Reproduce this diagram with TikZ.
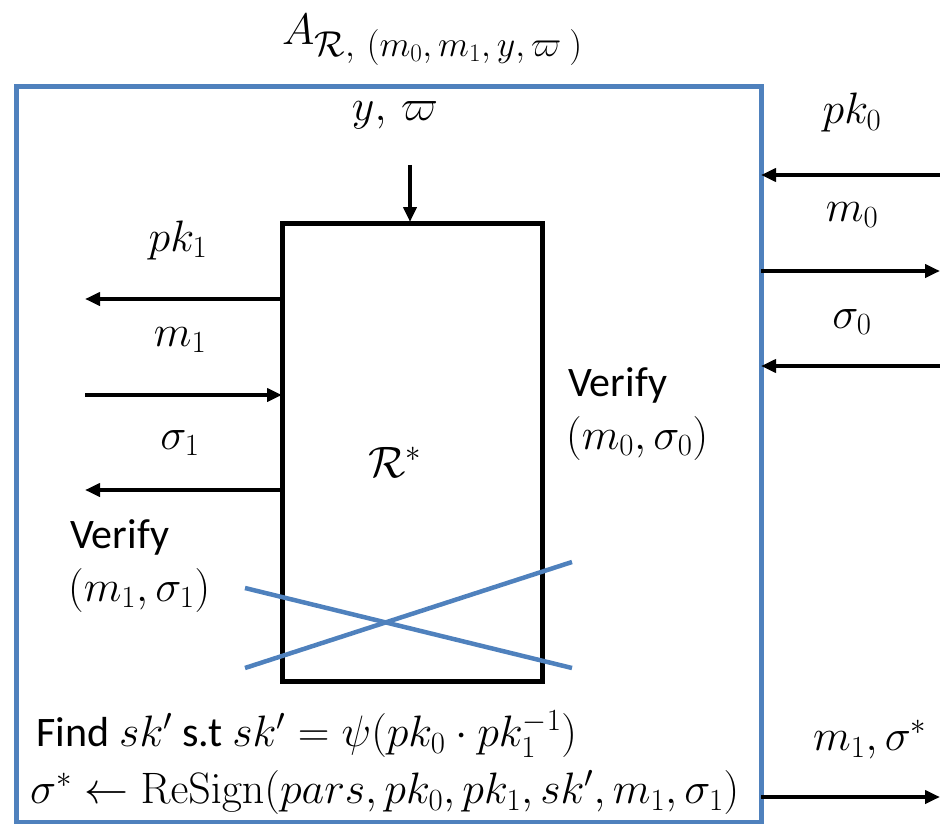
\documentclass[tikz,border=0pt]{standalone}
\usepackage{fix-cm}
\usepackage[no-math]{fontspec}
\setmainfont{Carlito}
\usetikzlibrary{arrows.meta}
\definecolor{frameblue}{HTML}{4F81BD}
\newcommand{\tx}[1]{{\fontsize{42}{48}\selectfont #1}}
\begin{document}
\begin{tikzpicture}[x=1pt,y=-1pt,
  lbl/.style={font=\fontsize{44}{50}\selectfont, inner sep=0pt},
  arr/.style={line width=4pt,-{Triangle[length=15pt,width=13pt]}},
  bluel/.style={frameblue,line width=4.5pt}]
\useasboundingbox (0,0) rectangle (940,824);
% outer box
\draw[frameblue,line width=5pt] (16.5,86.5) rectangle (761.5,822);
% inner box
\node[draw,line width=5pt,minimum width=260pt,minimum height=458pt,inner sep=0pt] (R) at (412,452.5) {};
\node[lbl] (Rl) at (395,462) {$\mathcal{R}^*$};
% title
\node[lbl,anchor=west] (title) at (282,40) {$A_{\hbox{\fontsize{36}{40}\selectfont$\mathcal{R},\,(m_0,m_1,y,\varpi\ )$}}$};
% top input
\node[lbl] (yw) at (395,115) {$y,\,\varpi$};
\coordinate (ytop) at (410,165);
\draw[arr] (ytop) -- (410,222);
% left arrows
\coordinate (L1) at (85,299);
\coordinate (L2) at (85,395);
\coordinate (L3) at (85,490);
\draw[arr] (282,299) -- (L1);
\draw[arr] (L2) -- (282,395);
\draw[arr] (282,490) -- (L3);
\node[lbl] (pk1) at (178,240) {$pk_1$};
\node[lbl] (m1) at (180,340) {$m_1$};
\node[lbl] (s1) at (180,443) {$\sigma_1$};
\node[lbl,anchor=west] (v1) at (70,537) {\tx{Verify}};
\node[lbl,anchor=west] (v1b) at (68,590) {$(m_1,\sigma_1)$};
% right arrows
\coordinate (Rt1) at (940,175);
\coordinate (Rt2) at (940,271);
\coordinate (Rt3) at (940,366);
\coordinate (Rt4) at (940,797);
\draw[arr] (Rt1) -- (761,175);
\draw[arr] (761,271) -- (Rt2);
\draw[arr] (Rt3) -- (761,366);
\draw[arr] (761,797) -- (Rt4);
\node[lbl] (pk0) at (852,113) {$pk_0$};
\node[lbl] (m0) at (852,215) {$m_0$};
\node[lbl] (s0) at (852,322) {$\sigma_0$};
\node[lbl] (ms) at (870,740) {$m_1,\sigma^*$};
\node[lbl,anchor=west] (v0) at (568,385) {\tx{Verify}};
\node[lbl,anchor=west] (v0b) at (566,438) {$(m_0,\sigma_0)$};
% cross
\draw[bluel] (245,588) -- (572,668);
\draw[bluel] (245,668) -- (572,562);
% bottom text
\node[lbl,anchor=west,align=left,font=\fontsize{44}{57}\selectfont] (f) at (30,763)
  {\hspace{6pt}\tx{Find} $sk'$ \tx{s.t} $sk'=\psi(pk_0\cdot pk_1^{-1})$\\
   $\sigma^*\leftarrow\mathrm{ReSign}(pars,pk_0,pk_1,sk',m_1,\sigma_1)$};
\end{tikzpicture}
\end{document}
